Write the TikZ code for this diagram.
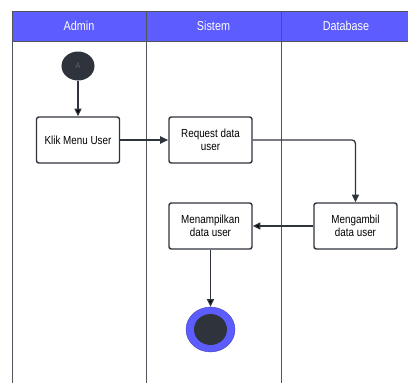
\documentclass[tikz,border=0pt]{standalone}
\usepackage{fontspec}
\setmainfont{Liberation Sans}
\newfontfamily\narrowsans[FakeStretch=0.84]{Liberation Sans}
\usetikzlibrary{positioning, arrows.meta, shapes.geometric}
\definecolor{lanehead}{HTML}{5C5CFF}
\definecolor{inkline}{HTML}{2F343C}
\definecolor{laneline}{HTML}{50545B}

\begin{document}
\begin{tikzpicture}[x=0.03cm,y=-0.03cm,-,
                    lane head/.style={draw=laneline,line width=0.8pt,fill=lanehead,text=white,
                      minimum height=0.9cm,inner sep=0pt,font=\narrowsans\fontsize{11}{13}\selectfont},
                    act node/.style={draw=inkline,line width=1.2pt,rounded corners=2pt,fill=white,
                      minimum width=2.49cm,minimum height=1.38cm,align=center,inner sep=1pt,
                      font=\narrowsans\fontsize{10}{11.2}\selectfont},
                    flow/.style={draw=inkline,line width=1.1pt,-{Triangle[length=6.5pt,width=6pt]}}]

  \useasboundingbox (0,0) rectangle (408,383);

  % lanes
  \node[lane head,minimum width=4.02cm] (hadmin) at (79,26) {Admin};
  \node[lane head,minimum width=4.05cm] (hsistem) at (213.5,26) {Sistem};
  \node[lane head,minimum width=3.9cm] (hdb) at (346,26) {Database};
  \draw[laneline,line width=0.8pt] (12,41) -- (12,383);
  \draw[laneline,line width=0.8pt] (146,41) -- (146,383);
  \draw[laneline,line width=0.8pt] (281,41) -- (281,383);

  % activities
  \node[ellipse,fill=inkline,minimum width=0.99cm,minimum height=0.87cm,inner sep=0pt,
        text=inkline!75!white,font=\narrowsans\fontsize{7}{8}\selectfont] (start) at (78,66) {A};
  \node[act node] (klik) at (78,140) {Klik Menu User};
  \node[act node] (req) at (210.5,140) {Request data\\user};
  \node[act node] (ambil) at (355.5,226) {Mengambil\\data user};
  \node[act node] (tampil) at (210.5,226) {Menampilkan\\data user};
  \node[ellipse,fill=lanehead,draw=lanehead!70!black,line width=0.3pt,
        minimum width=1.47cm,minimum height=1.35cm,inner sep=0pt] (end) at (210.5,329.5) {};
  \node[ellipse,fill=inkline,minimum width=0.99cm,minimum height=0.93cm,inner sep=0pt] (endin) at (end) {};

  \path[flow]
  (start) edge (klik)
  (ambil) edge (tampil)
  (tampil) edge (end);

  \draw[flow,line width=2.3pt,-{Triangle[length=7pt,width=6pt]}] (klik) -- (req);
  \draw[flow,rounded corners=3pt] (req.east) -| (ambil.north);

\end{tikzpicture}
\end{document}
